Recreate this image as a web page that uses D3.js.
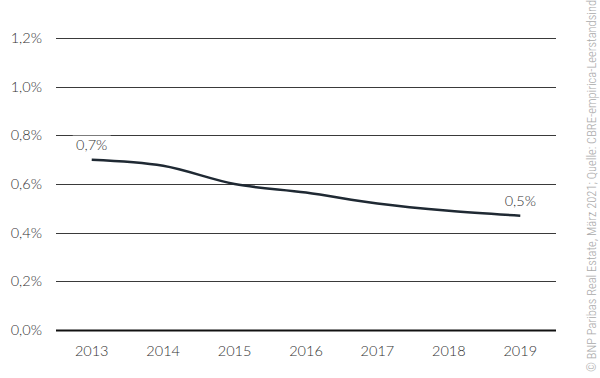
<!DOCTYPE html>
<html>
<head>
<meta charset="utf-8">
<script src="https://cdn.jsdelivr.net/npm/d3@7"></script>
<style>
  body { margin: 0; background: #fff; }
  svg { display: block; font-family: Lato, "Open Sans", sans-serif; font-weight: 300; }
</style>
</head>
<body>
<svg id="chart"></svg>
<script>
// values
const years = ["2013", "2014", "2015", "2016", "2017", "2018", "2019"];
const vacancy = [0.70, 0.675, 0.60, 0.565, 0.52, 0.49, 0.47];
const yTicks = [0, 0.2, 0.4, 0.6, 0.8, 1.0, 1.2];
const labels = [{ i: 0, text: "0,7%" }, { i: 6, text: "0,5%" }];
const source = "© BNP Paribas Real Estate, März 2021; Quelle: CBRE-empirica-Leerstandsindex";

const width = 600, height = 378;
const mLeft = 56, mRight = 556, mTop = 38, mBottom = 330;

const svg = d3.select("#chart")
    .attr("width", width)
    .attr("height", height);

const x = d3.scaleBand()
    .domain(years)
    .range([mLeft, mRight]);

const y = d3.scaleLinear()
    .domain([0, 1.2])
    .range([mBottom, mTop]);

const fmt = d => d3.format(".1f")(d).replace(".", ",") + "%";

// gridlines
svg.append("g")
    .selectAll("line")
    .data(yTicks)
    .enter().append("line")
    .attr("x1", mLeft)
    .attr("x2", mRight)
    .attr("y1", d => Math.round(y(d)) + 0.5)
    .attr("y2", d => Math.round(y(d)) + 0.5)
    .attr("stroke", d => d === 0 ? "#111" : "#3a3a3a")
    .attr("stroke-width", d => d === 0 ? 2 : 1);

// y labels
svg.append("g")
    .selectAll("text")
    .data(yTicks)
    .enter().append("text")
    .attr("x", 42)
    .attr("y", d => y(d) + 5)
    .attr("text-anchor", "end")
    .attr("font-size", 14.5)
    .attr("fill", "#333")
    .text(fmt);

// x labels
svg.append("g")
    .selectAll("text")
    .data(years)
    .enter().append("text")
    .attr("x", d => x(d) + x.bandwidth() / 2)
    .attr("y", 356)
    .attr("text-anchor", "middle")
    .attr("font-size", 14.5)
    .attr("fill", "#333")
    .text(d => d);

const line = d3.line()
    .x((d, i) => x(years[i]) + x.bandwidth() / 2)
    .y(d => y(d))
    .curve(d3.curveMonotoneX);

svg.append("path")
    .datum(vacancy)
    .attr("d", line)
    .attr("fill", "none")
    .attr("stroke", "#1f2933")
    .attr("stroke-width", 2.5)
    .attr("stroke-linejoin", "round");

// value labels with white backing
const lab = svg.append("g")
    .selectAll("g")
    .data(labels)
    .enter().append("g")
    .attr("transform", d => `translate(${x(years[d.i]) + x.bandwidth() / 2},${y(vacancy[d.i]) - 10})`);

lab.append("rect")
    .attr("x", -19)
    .attr("y", -14)
    .attr("width", 38)
    .attr("height", 18)
    .attr("fill", "#fff");

lab.append("text")
    .attr("text-anchor", "middle")
    .attr("font-size", 14.5)
    .attr("fill", "#333")
    .text(d => d.text);

// source note, cut off at the top edge as in the original
svg.append("text")
    .attr("transform", "translate(596,372) rotate(-90)")
    .attr("font-size", 12.5)
    .attr("fill", "#aaa")
    .attr("font-family", "'Liberation Sans Narrow', 'Roboto Condensed', sans-serif")
    .text(source);
</script>
</body>
</html>
